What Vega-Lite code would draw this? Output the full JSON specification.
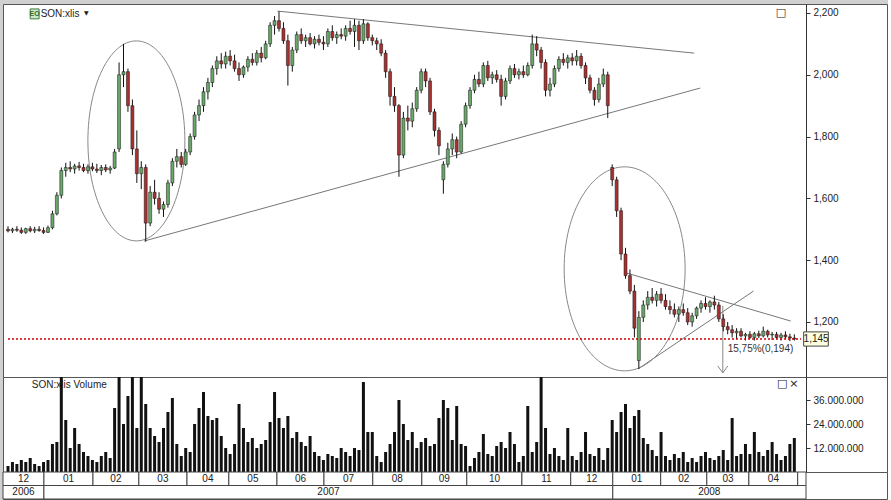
{
"$schema":"https://vega.github.io/schema/vega-lite/v6.json",
"padding":{"left":2,"top":3,"right":0,"bottom":0},
"background":"#d0d0d0",
"spacing":0,
"bounds":"flush",
"config":{"view":{"stroke":"#555","fill":"#ffffff"},"font":"Liberation Sans","axis":{"labelFont":"Liberation Sans","labelFontSize":10,"labelColor":"#222","domainColor":"#333","tickColor":"#333","grid":false,"title":null,"labelOverlap":false,"labelBound":false,"labelFlush":false,"labelPadding":3,"tickSize":4}},
"datasets":{
"c":[
{"t":0,"o":1500,"h":1510,"l":1490,"c":1495,"v":3},
{"t":2,"o":1495,"h":1505,"l":1488,"c":1500,"v":5},
{"t":4,"o":1500,"h":1510,"l":1492,"c":1497,"v":4},
{"t":6,"o":1497,"h":1506,"l":1485,"c":1490,"v":6},
{"t":8,"o":1490,"h":1505,"l":1485,"c":1502,"v":5},
{"t":10,"o":1502,"h":1510,"l":1490,"c":1495,"v":7},
{"t":12,"o":1495,"h":1508,"l":1488,"c":1500,"v":4},
{"t":14,"o":1500,"h":1510,"l":1492,"c":1496,"v":3},
{"t":16,"o":1496,"h":1506,"l":1485,"c":1490,"v":5},
{"t":18,"o":1490,"h":1512,"l":1488,"c":1505,"v":6},
{"t":20,"o":1505,"h":1560,"l":1500,"c":1550,"v":14},
{"t":22,"o":1550,"h":1620,"l":1545,"c":1610,"v":15},
{"t":24,"o":1610,"h":1700,"l":1600,"c":1690,"v":50},
{"t":26,"o":1690,"h":1715,"l":1670,"c":1700,"v":26},
{"t":28,"o":1700,"h":1720,"l":1685,"c":1695,"v":12},
{"t":30,"o":1695,"h":1712,"l":1680,"c":1705,"v":22},
{"t":32,"o":1705,"h":1718,"l":1690,"c":1700,"v":14},
{"t":34,"o":1700,"h":1712,"l":1685,"c":1690,"v":10},
{"t":36,"o":1690,"h":1710,"l":1680,"c":1702,"v":8},
{"t":38,"o":1702,"h":1715,"l":1688,"c":1695,"v":6},
{"t":40,"o":1695,"h":1712,"l":1682,"c":1690,"v":5},
{"t":42,"o":1690,"h":1708,"l":1675,"c":1700,"v":8},
{"t":44,"o":1700,"h":1710,"l":1685,"c":1692,"v":10},
{"t":46,"o":1692,"h":1705,"l":1680,"c":1698,"v":7},
{"t":48,"o":1698,"h":1760,"l":1695,"c":1750,"v":32},
{"t":50,"o":1760,"h":2040,"l":1750,"c":2000,"v":50},
{"t":52,"o":2000,"h":2100,"l":1960,"c":2010,"v":24},
{"t":54,"o":2010,"h":2020,"l":1880,"c":1900,"v":38},
{"t":56,"o":1900,"h":1920,"l":1740,"c":1760,"v":50},
{"t":58,"o":1760,"h":1820,"l":1650,"c":1680,"v":22},
{"t":60,"o":1680,"h":1720,"l":1630,"c":1700,"v":50},
{"t":62,"o":1700,"h":1710,"l":1460,"c":1520,"v":34},
{"t":64,"o":1520,"h":1640,"l":1510,"c":1620,"v":22},
{"t":66,"o":1620,"h":1660,"l":1580,"c":1600,"v":18},
{"t":68,"o":1600,"h":1620,"l":1550,"c":1565,"v":15},
{"t":70,"o":1565,"h":1590,"l":1540,"c":1580,"v":22},
{"t":72,"o":1580,"h":1660,"l":1570,"c":1650,"v":30},
{"t":74,"o":1650,"h":1730,"l":1640,"c":1720,"v":37},
{"t":76,"o":1720,"h":1760,"l":1700,"c":1735,"v":14},
{"t":78,"o":1735,"h":1750,"l":1700,"c":1710,"v":8},
{"t":80,"o":1710,"h":1760,"l":1705,"c":1750,"v":12},
{"t":82,"o":1750,"h":1810,"l":1740,"c":1800,"v":10},
{"t":84,"o":1800,"h":1880,"l":1790,"c":1870,"v":24},
{"t":86,"o":1870,"h":1920,"l":1850,"c":1900,"v":32},
{"t":88,"o":1900,"h":1960,"l":1880,"c":1945,"v":40},
{"t":90,"o":1945,"h":1990,"l":1920,"c":1975,"v":28},
{"t":92,"o":1975,"h":2030,"l":1960,"c":2020,"v":26},
{"t":94,"o":2020,"h":2060,"l":2000,"c":2045,"v":27},
{"t":96,"o":2045,"h":2070,"l":2020,"c":2035,"v":18},
{"t":98,"o":2035,"h":2075,"l":2020,"c":2060,"v":12},
{"t":100,"o":2060,"h":2080,"l":2030,"c":2045,"v":9},
{"t":102,"o":2045,"h":2065,"l":2010,"c":2020,"v":14},
{"t":104,"o":2020,"h":2040,"l":1980,"c":2000,"v":34},
{"t":106,"o":2000,"h":2030,"l":1990,"c":2025,"v":22},
{"t":108,"o":2025,"h":2060,"l":2010,"c":2050,"v":15},
{"t":110,"o":2050,"h":2070,"l":2030,"c":2040,"v":17},
{"t":112,"o":2040,"h":2080,"l":2030,"c":2070,"v":12},
{"t":114,"o":2070,"h":2090,"l":2040,"c":2055,"v":14},
{"t":116,"o":2055,"h":2110,"l":2050,"c":2100,"v":16},
{"t":118,"o":2100,"h":2170,"l":2090,"c":2160,"v":25},
{"t":120,"o":2160,"h":2190,"l":2130,"c":2175,"v":40},
{"t":122,"o":2175,"h":2205,"l":2140,"c":2150,"v":27},
{"t":124,"o":2150,"h":2170,"l":2100,"c":2110,"v":22},
{"t":126,"o":2110,"h":2130,"l":1965,"c":2030,"v":28},
{"t":128,"o":2030,"h":2090,"l":2010,"c":2080,"v":17},
{"t":130,"o":2080,"h":2140,"l":2070,"c":2130,"v":20},
{"t":132,"o":2130,"h":2150,"l":2100,"c":2110,"v":15},
{"t":134,"o":2110,"h":2130,"l":2090,"c":2120,"v":13},
{"t":136,"o":2120,"h":2135,"l":2095,"c":2100,"v":18},
{"t":138,"o":2100,"h":2125,"l":2085,"c":2115,"v":10},
{"t":140,"o":2115,"h":2130,"l":2095,"c":2105,"v":8},
{"t":142,"o":2105,"h":2125,"l":2080,"c":2100,"v":6},
{"t":144,"o":2100,"h":2150,"l":2090,"c":2140,"v":9},
{"t":146,"o":2140,"h":2160,"l":2110,"c":2120,"v":8},
{"t":148,"o":2120,"h":2140,"l":2100,"c":2130,"v":7},
{"t":150,"o":2130,"h":2150,"l":2115,"c":2125,"v":12},
{"t":152,"o":2125,"h":2160,"l":2110,"c":2150,"v":10},
{"t":154,"o":2150,"h":2175,"l":2130,"c":2140,"v":8},
{"t":156,"o":2140,"h":2180,"l":2090,"c":2160,"v":12},
{"t":158,"o":2160,"h":2175,"l":2080,"c":2110,"v":11},
{"t":160,"o":2110,"h":2180,"l":2100,"c":2165,"v":45},
{"t":162,"o":2165,"h":2170,"l":2110,"c":2120,"v":20},
{"t":164,"o":2120,"h":2130,"l":2095,"c":2110,"v":20},
{"t":166,"o":2110,"h":2120,"l":2080,"c":2100,"v":8},
{"t":168,"o":2100,"h":2115,"l":2060,"c":2070,"v":5},
{"t":170,"o":2070,"h":2080,"l":1990,"c":2010,"v":10},
{"t":172,"o":2010,"h":2020,"l":1900,"c":1930,"v":14},
{"t":174,"o":1930,"h":1960,"l":1880,"c":1900,"v":20},
{"t":176,"o":1900,"h":1905,"l":1670,"c":1740,"v":36},
{"t":178,"o":1740,"h":1880,"l":1730,"c":1860,"v":24},
{"t":180,"o":1860,"h":1900,"l":1820,"c":1850,"v":16},
{"t":182,"o":1850,"h":1910,"l":1830,"c":1890,"v":20},
{"t":184,"o":1890,"h":1960,"l":1880,"c":1950,"v":12},
{"t":186,"o":1950,"h":2020,"l":1940,"c":2010,"v":15},
{"t":188,"o":2010,"h":2020,"l":1960,"c":1980,"v":17},
{"t":190,"o":1980,"h":1990,"l":1870,"c":1880,"v":13},
{"t":192,"o":1880,"h":1890,"l":1800,"c":1820,"v":14},
{"t":194,"o":1820,"h":1830,"l":1740,"c":1770,"v":27},
{"t":196,"o":1660,"h":1720,"l":1615,"c":1710,"v":36},
{"t":198,"o":1710,"h":1780,"l":1700,"c":1760,"v":32},
{"t":200,"o":1760,"h":1810,"l":1740,"c":1790,"v":16},
{"t":202,"o":1790,"h":1800,"l":1730,"c":1750,"v":33},
{"t":204,"o":1750,"h":1850,"l":1745,"c":1840,"v":14},
{"t":206,"o":1840,"h":1910,"l":1830,"c":1900,"v":13},
{"t":208,"o":1900,"h":1960,"l":1890,"c":1950,"v":3},
{"t":210,"o":1950,"h":2000,"l":1940,"c":1985,"v":7},
{"t":212,"o":1985,"h":2010,"l":1960,"c":1970,"v":10},
{"t":214,"o":1970,"h":2040,"l":1960,"c":2030,"v":19},
{"t":216,"o":2030,"h":2045,"l":1980,"c":1990,"v":9},
{"t":218,"o":1990,"h":2010,"l":1970,"c":2000,"v":8},
{"t":220,"o":2000,"h":2015,"l":1975,"c":1985,"v":13},
{"t":222,"o":1985,"h":2000,"l":1900,"c":1930,"v":15},
{"t":224,"o":1930,"h":1990,"l":1920,"c":1980,"v":12},
{"t":226,"o":1980,"h":2030,"l":1970,"c":2020,"v":20},
{"t":228,"o":2020,"h":2035,"l":1990,"c":2000,"v":14},
{"t":230,"o":2000,"h":2020,"l":1985,"c":2010,"v":5},
{"t":232,"o":2010,"h":2030,"l":1990,"c":2000,"v":8},
{"t":234,"o":2000,"h":2040,"l":1995,"c":2030,"v":33},
{"t":236,"o":2030,"h":2130,"l":2020,"c":2100,"v":10},
{"t":238,"o":2100,"h":2125,"l":2060,"c":2080,"v":15},
{"t":240,"o":2080,"h":2090,"l":2020,"c":2040,"v":50},
{"t":242,"o":2040,"h":2050,"l":1930,"c":1950,"v":22},
{"t":244,"o":1950,"h":1990,"l":1930,"c":1970,"v":9},
{"t":246,"o":1970,"h":2030,"l":1960,"c":2020,"v":12},
{"t":248,"o":2020,"h":2060,"l":2010,"c":2050,"v":8},
{"t":250,"o":2050,"h":2070,"l":2030,"c":2040,"v":6},
{"t":252,"o":2040,"h":2065,"l":2020,"c":2055,"v":22},
{"t":254,"o":2055,"h":2070,"l":2030,"c":2045,"v":8},
{"t":256,"o":2045,"h":2080,"l":2030,"c":2060,"v":6},
{"t":258,"o":2060,"h":2070,"l":2020,"c":2030,"v":10},
{"t":260,"o":2030,"h":2040,"l":1970,"c":1990,"v":20},
{"t":262,"o":1990,"h":2000,"l":1940,"c":1950,"v":9},
{"t":264,"o":1950,"h":1960,"l":1900,"c":1920,"v":8},
{"t":266,"o":1920,"h":1990,"l":1910,"c":1970,"v":12},
{"t":268,"o":1970,"h":2020,"l":1960,"c":2000,"v":6},
{"t":270,"o":2000,"h":2010,"l":1860,"c":1900,"v":12},
{"t":272,"o":1700,"h":1710,"l":1640,"c":1660,"v":26},
{"t":274,"o":1660,"h":1670,"l":1540,"c":1560,"v":20},
{"t":276,"o":1560,"h":1570,"l":1400,"c":1420,"v":30},
{"t":278,"o":1420,"h":1440,"l":1340,"c":1350,"v":34},
{"t":280,"o":1350,"h":1370,"l":1290,"c":1300,"v":22},
{"t":282,"o":1300,"h":1320,"l":1150,"c":1180,"v":28},
{"t":284,"o":1075,"h":1235,"l":1048,"c":1215,"v":31},
{"t":286,"o":1215,"h":1270,"l":1200,"c":1255,"v":17},
{"t":288,"o":1255,"h":1300,"l":1240,"c":1280,"v":14},
{"t":290,"o":1280,"h":1310,"l":1260,"c":1270,"v":11},
{"t":292,"o":1270,"h":1300,"l":1250,"c":1290,"v":8},
{"t":294,"o":1290,"h":1310,"l":1260,"c":1270,"v":20},
{"t":296,"o":1270,"h":1290,"l":1240,"c":1250,"v":8},
{"t":298,"o":1250,"h":1270,"l":1225,"c":1240,"v":6},
{"t":300,"o":1240,"h":1260,"l":1215,"c":1225,"v":9},
{"t":302,"o":1225,"h":1250,"l":1200,"c":1240,"v":7},
{"t":304,"o":1240,"h":1260,"l":1220,"c":1230,"v":10},
{"t":306,"o":1230,"h":1245,"l":1190,"c":1200,"v":5},
{"t":308,"o":1200,"h":1230,"l":1185,"c":1220,"v":7},
{"t":310,"o":1220,"h":1250,"l":1210,"c":1245,"v":5},
{"t":312,"o":1245,"h":1270,"l":1230,"c":1260,"v":8},
{"t":314,"o":1260,"h":1280,"l":1240,"c":1250,"v":10},
{"t":316,"o":1250,"h":1270,"l":1230,"c":1265,"v":7},
{"t":318,"o":1265,"h":1285,"l":1240,"c":1255,"v":6},
{"t":320,"o":1255,"h":1265,"l":1200,"c":1210,"v":8},
{"t":322,"o":1210,"h":1225,"l":1170,"c":1185,"v":11},
{"t":324,"o":1185,"h":1200,"l":1160,"c":1175,"v":6},
{"t":326,"o":1175,"h":1190,"l":1150,"c":1165,"v":27},
{"t":328,"o":1165,"h":1180,"l":1145,"c":1170,"v":8},
{"t":330,"o":1170,"h":1180,"l":1150,"c":1155,"v":9},
{"t":332,"o":1155,"h":1165,"l":1140,"c":1160,"v":14},
{"t":334,"o":1160,"h":1170,"l":1145,"c":1150,"v":9},
{"t":336,"o":1150,"h":1168,"l":1140,"c":1162,"v":20},
{"t":338,"o":1162,"h":1172,"l":1148,"c":1155,"v":10},
{"t":340,"o":1155,"h":1185,"l":1150,"c":1170,"v":8},
{"t":342,"o":1170,"h":1175,"l":1150,"c":1158,"v":11},
{"t":344,"o":1158,"h":1168,"l":1142,"c":1160,"v":15},
{"t":346,"o":1160,"h":1168,"l":1145,"c":1150,"v":9},
{"t":348,"o":1150,"h":1165,"l":1140,"c":1158,"v":6},
{"t":350,"o":1158,"h":1170,"l":1145,"c":1152,"v":8},
{"t":352,"o":1152,"h":1162,"l":1138,"c":1148,"v":14},
{"t":354,"o":1148,"h":1160,"l":1140,"c":1145,"v":17}
],
"tl":[
{"g":1,"t":121.3,"p":2206},{"g":1,"t":308.9,"p":2070},
{"g":2,"t":61.3,"p":1462},{"g":2,"t":311.6,"p":1957},
{"g":3,"t":278.2,"p":1359},{"g":3,"t":352.4,"p":1203},
{"g":4,"t":283.6,"p":1048},{"g":4,"t":335.6,"p":1300}
],
"pm":[{"p":1040},{"p":1060},{"p":1080},{"p":1100},{"p":1120},{"p":1140},{"p":1160},{"p":1180},{"p":1220},{"p":1240},{"p":1260},{"p":1280},{"p":1300},{"p":1320},{"p":1340},{"p":1360},{"p":1380},{"p":1420},{"p":1440},{"p":1460},{"p":1480},{"p":1500},{"p":1520},{"p":1540},{"p":1560},{"p":1580},{"p":1620},{"p":1640},{"p":1660},{"p":1680},{"p":1700},{"p":1720},{"p":1740},{"p":1760},{"p":1780},{"p":1820},{"p":1840},{"p":1860},{"p":1880},{"p":1900},{"p":1920},{"p":1940},{"p":1960},{"p":1980},{"p":2020},{"p":2040},{"p":2060},{"p":2080},{"p":2100},{"p":2120},{"p":2140},{"p":2160},{"p":2180},{"p":2220}],
"vm":[{"v":2},{"v":4},{"v":6},{"v":8},{"v":10},{"v":14},{"v":16},{"v":18},{"v":20},{"v":22},{"v":26},{"v":28},{"v":30},{"v":32},{"v":34},{"v":38},{"v":40},{"v":42},{"v":44},{"v":46}],
"mo":[
{"r":"m","s":0,"e":18.2,"lab":"12","mid":9.1},
{"r":"m","s":18.2,"e":40,"lab":"01","mid":29.1},
{"r":"m","s":40,"e":60.4,"lab":"02","mid":50.2},
{"r":"m","s":60.4,"e":81.8,"lab":"03","mid":71.1},
{"r":"m","s":81.8,"e":100.4,"lab":"04","mid":91.1},
{"r":"m","s":100.4,"e":121.8,"lab":"05","mid":111.1},
{"r":"m","s":121.8,"e":142.7,"lab":"06","mid":132.3},
{"r":"m","s":142.7,"e":164.4,"lab":"07","mid":153.6},
{"r":"m","s":164.4,"e":186.2,"lab":"08","mid":175.3},
{"r":"m","s":186.2,"e":206.2,"lab":"09","mid":196.2},
{"r":"m","s":206.2,"e":230.7,"lab":"10","mid":218.5},
{"r":"m","s":230.7,"e":252.4,"lab":"11","mid":241.6},
{"r":"m","s":252.4,"e":271.1,"lab":"12","mid":261.8},
{"r":"m","s":271.1,"e":292.4,"lab":"01","mid":281.8},
{"r":"m","s":292.4,"e":312.9,"lab":"02","mid":302.7},
{"r":"m","s":312.9,"e":331.6,"lab":"03","mid":322.3},
{"r":"m","s":331.6,"e":353.3,"lab":"04","mid":342.5},
{"r":"m","s":353.3,"e":357,"lab":"","mid":355},
{"r":"y","s":0,"e":18.2,"lab":"2006","mid":9.1},
{"r":"y","s":18.2,"e":271.1,"lab":"2007","mid":144.7},
{"r":"y","s":271.1,"e":357,"lab":"2008","mid":314}
]
},
"vconcat":[
{
"width":884,"height":373,
"encoding":{
"x":{"field":"t","type":"quantitative","scale":{"domain":[0,357],"range":[0,803],"nice":false,"zero":false},"axis":null}
},
"layer":[
{"data":{"name":"tl"},"mark":{"type":"line","color":"#777","strokeWidth":1},
"encoding":{"y":{"field":"p","type":"quantitative","scale":{"domain":[1022,2229],"nice":false,"zero":false},
"axis":{"orient":"right","offset":-81,"values":[1200,1400,1600,1800,2000,2200],"labelExpr":"format(datum.value, ',')"}},
"detail":{"field":"g","type":"nominal"}}},
{"data":{"name":"pm"},"mark":{"type":"rule","color":"#333","strokeWidth":1},
"encoding":{"x":{"datum":357},"x2":{"datum":357.9},"y":{"field":"p","type":"quantitative"}}},
{"data":{"values":[{"t":57.8,"p":1786}]},"mark":{"type":"point","shape":"M-0.485,0C-0.485,-0.552,-0.268,-1,0,-1C0.268,-1,0.485,-0.552,0.485,0C0.485,0.552,0.268,1,0,1C-0.268,1,-0.485,0.552,-0.485,0Z","size":40000,"filled":false,"stroke":"#888","strokeWidth":1,"opacity":1},
"encoding":{"y":{"field":"p","type":"quantitative"}}},
{"data":{"values":[{"t":277.6,"p":1372}]},"mark":{"type":"point","shape":"M-0.593,0C-0.593,-0.552,-0.328,-1,0,-1C0.328,-1,0.593,-0.552,0.593,0C0.593,0.552,0.328,1,0,1C-0.328,1,-0.593,0.552,-0.593,0Z","size":41616,"filled":false,"stroke":"#888","strokeWidth":1,"opacity":1},
"encoding":{"y":{"field":"p","type":"quantitative"}}},
{"data":{"values":[{"t":321.8,"p1":1252,"p2":1035}]},"mark":{"type":"rule","color":"#888","strokeWidth":1},
"encoding":{"y":{"field":"p1","type":"quantitative"},"y2":{"field":"p2"}}},
{"data":{"values":[{"t":321.8,"p":1035}]},"mark":{"type":"point","shape":"M-1,-1.4L0,0L1,-1.4","size":100,"filled":false,"stroke":"#888","strokeWidth":1,"opacity":1},
"encoding":{"y":{"field":"p","type":"quantitative"}}},
{"data":{"name":"c"},"mark":{"type":"rule","color":"#111","strokeWidth":1},
"encoding":{"y":{"field":"l","type":"quantitative"},"y2":{"field":"h"}}},
{"data":{"name":"c"},"mark":{"type":"bar","width":3,"stroke":"#111","strokeWidth":0.5},
"encoding":{"y":{"field":"o","type":"quantitative"},"y2":{"field":"c"},
"fill":{"condition":{"test":"datum.c >= datum.o","value":"#6aa86a"},"value":"#a83232"}}},
{"data":{"values":[{"t0":0,"t1":357,"p":1145}]},"mark":{"type":"rule","color":"#d00000","strokeWidth":1.5,"strokeDash":[2,2]},
"encoding":{"x":{"field":"t0","type":"quantitative"},"x2":{"field":"t1"},"y":{"field":"p","type":"quantitative"}}},
{"data":{"values":[{"t":324,"p":1113,"s":"15,75%(0,194)"}]},"mark":{"type":"text","align":"left","baseline":"middle","fontSize":10,"color":"#333"},
"encoding":{"y":{"field":"p","type":"quantitative"},"text":{"field":"s"}}},
{"data":{"values":[{"t1":358.2,"t2":369.3,"p1":1122,"p2":1168}]},"mark":{"type":"rect","fill":"#ffffe1","stroke":"#444","strokeWidth":1},
"encoding":{"x":{"field":"t1","type":"quantitative"},"x2":{"field":"t2"},"y":{"field":"p1","type":"quantitative"},"y2":{"field":"p2"}}},
{"data":{"values":[{"t":363.8,"p":1145,"s":"1,145"}]},"mark":{"type":"text","align":"center","baseline":"middle","fontSize":10,"color":"#222"},
"encoding":{"y":{"field":"p","type":"quantitative"},"text":{"field":"s"}}},
{"data":{"values":[{"t1":10,"t2":14,"p1":2181,"p2":2213}]},"mark":{"type":"rect","fill":"#cfe8c8","stroke":"#3d7a3d","strokeWidth":1},
"encoding":{"x":{"field":"t1","type":"quantitative"},"x2":{"field":"t2"},"y":{"field":"p1","type":"quantitative"},"y2":{"field":"p2"}}},
{"data":{"values":[{"t":12,"p":2197,"s":"EO"}]},"mark":{"type":"text","align":"center","baseline":"middle","fontSize":7,"fontWeight":"bold","color":"#2e6b2e"},
"encoding":{"y":{"field":"p","type":"quantitative"},"text":{"field":"s"}}},
{"data":{"values":[{"t":14.7,"p":2197,"s":"SON:xlis"}]},"mark":{"type":"text","align":"left","baseline":"middle","fontSize":10,"color":"#222"},
"encoding":{"y":{"field":"p","type":"quantitative"},"text":{"field":"s"}}},
{"data":{"values":[{"t":35.3,"p":2199,"s":"▼"}]},"mark":{"type":"text","align":"center","baseline":"middle","fontSize":6,"color":"#222","font":"DejaVu Sans"},
"encoding":{"y":{"field":"p","type":"quantitative"},"text":{"field":"s"}}},
{"data":{"values":[{"t":348,"p":2200,"s":"□"}]},"mark":{"type":"text","align":"center","baseline":"middle","fontSize":11,"color":"#222","font":"DejaVu Sans"},
"encoding":{"y":{"field":"p","type":"quantitative"},"text":{"field":"s"}}}
]
},
{
"width":884,"height":95,
"encoding":{
"x":{"field":"t","type":"quantitative","scale":{"domain":[0,357],"range":[0,803],"nice":false,"zero":false},"axis":null}
},
"layer":[
{"data":{"name":"c"},"mark":{"type":"bar","width":3,"color":"#111","clip":true},
"encoding":{"y":{"field":"v","type":"quantitative","scale":{"domain":[0,47.5],"nice":false,"zero":true},
"axis":{"orient":"right","offset":-81,"values":[12,24,36],"labelExpr":"datum.value + '.000.000'"}}}},
{"data":{"name":"vm"},"mark":{"type":"rule","color":"#333","strokeWidth":1},
"encoding":{"x":{"datum":357},"x2":{"datum":357.9},"y":{"field":"v","type":"quantitative"}}},
{"data":{"values":[{"t":10.7,"v":43.5,"s":"SON:xlis Volume"}]},"mark":{"type":"text","align":"left","baseline":"middle","fontSize":10,"color":"#222"},
"encoding":{"y":{"field":"v","type":"quantitative"},"text":{"field":"s"}}},
{"data":{"values":[{"t":348.5,"v":44,"s":"□"},{"t":353.8,"v":44,"s":"×"}]},"mark":{"type":"text","align":"center","baseline":"middle","fontSize":11,"color":"#222","font":"DejaVu Sans"},
"encoding":{"y":{"field":"v","type":"quantitative"},"text":{"field":"s"}}}
]
},
{
"width":884,"height":27,
"data":{"name":"mo"},
"layer":[
{"mark":{"type":"rect","fill":"#ffffff","stroke":"#444","strokeWidth":1},
"encoding":{"x":{"field":"s","type":"quantitative","scale":{"domain":[0,357],"range":[0,803],"nice":false,"zero":false},"axis":null},"x2":{"field":"e"},
"y":{"field":"r","type":"nominal","scale":{"domain":["m","y"],"paddingInner":0,"paddingOuter":0},"axis":null}}},
{"mark":{"type":"text","align":"center","baseline":"middle","fontSize":10,"color":"#222"},
"encoding":{"x":{"field":"mid","type":"quantitative"},"y":{"field":"r","type":"nominal"},"text":{"field":"lab"}}}
]
}
]
}
